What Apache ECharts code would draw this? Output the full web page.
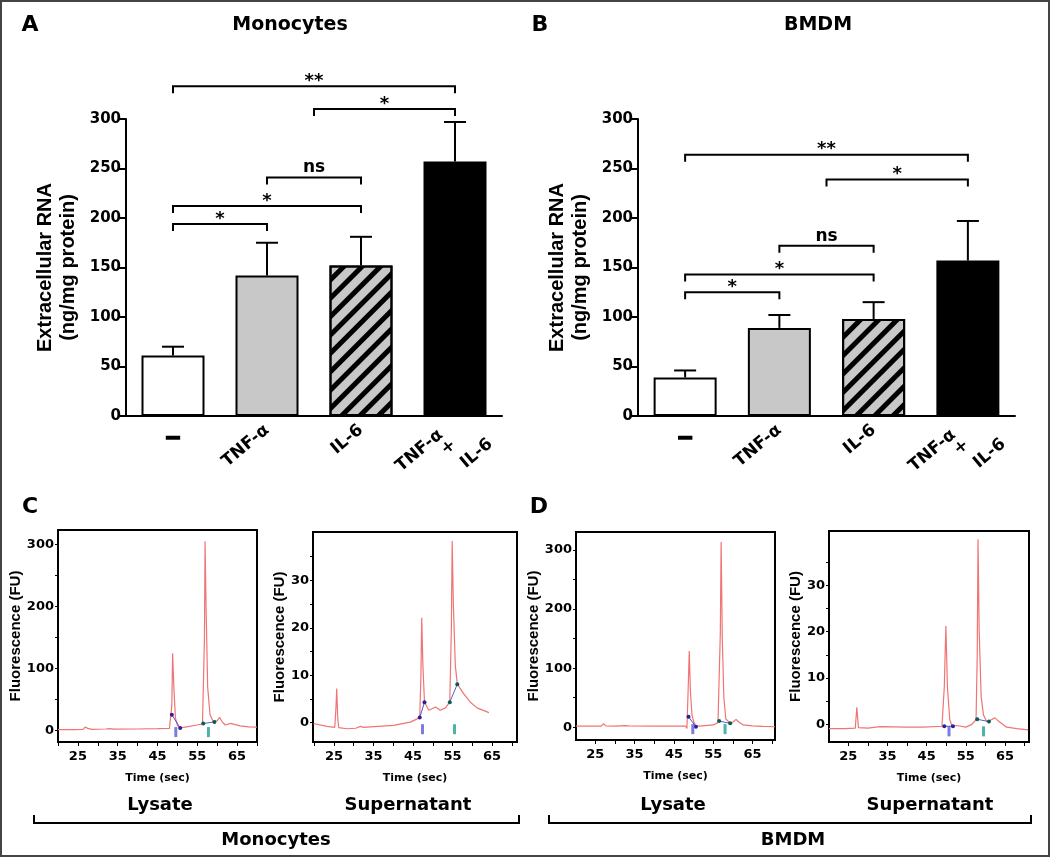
<!DOCTYPE html>
<html><head><meta charset="utf-8">
<script src="https://cdn.jsdelivr.net/npm/echarts@6/dist/echarts.min.js"></script>
<style>html,body{margin:0;padding:0;background:#fff}#c{width:1050px;height:857px}</style>
</head><body><div id="c"></div>
<script>
// ---------------- DATA ----------------
const categories = ['–', 'TNF-α', 'IL-6', 'TNF-α + IL-6'];
const monoMeans = [61, 142, 152, 257];
const monoErr = [9, 33, 29, 40];
const bmdmMeans = [39, 89, 98, 157];
const bmdmErr = [7, 13, 17, 40];
const barFills = ['#ffffff', '#c8c8c8', '#c8c8c8', '#000000'];
const barHatched = [false, false, true, false];

const bracketFrom = [0, 1.5, 1, 0, 0];
const bracketTo = [3, 3, 2, 2, 1];
const bracketLabels = ['**', '*', 'ns', '*', '*'];
const monoBracketY = [333, 310, 241, 212, 194];
const bmdmBracketY = [264, 239, 172, 143, 125];

// Electropherograms (time s, fluorescence FU)
const monoLysT  = [20, 24, 26.3, 26.8, 27.1, 27.5, 28.5, 32, 33, 34, 40, 45, 48, 48.4, 48.6, 48.8, 49.1, 49.5, 50.0, 50.7, 52.3, 54.9, 56.3, 56.6, 56.8, 56.95, 57.2, 57.6, 58.2, 59.0, 60.0, 60.6, 61.2, 62.0, 63.4, 64.5, 65.8, 68, 70];
const monoLysFU = [1, 1, 1.5, 5, 8, 3, 1.5, 2, 2.5, 1.8, 2, 2.5, 3, 1, 40, 124, 70, 20, 8, 3.7, 5.5, 8.4, 10, 12, 150, 305, 200, 70, 25, 14, 15, 21, 14, 8.4, 11, 9, 7, 5.5, 5];
const monoSupT  = [19.8, 23.2, 25.2, 25.5, 25.7, 25.95, 26.2, 28.3, 30.5, 31.7, 32.5, 34.2, 40.1, 44.3, 46.7, 47.0, 47.2, 47.5, 47.9, 49.0, 50.7, 51.9, 53.2, 54.3, 54.7, 54.9, 55.2, 55.7, 56.2, 57.8, 59.5, 61.2, 64.2];
const monoSupFU = [-0.2, -0.8, -1.0, 3, 7.2, 1, -1.05, -1.3, -1.2, -0.8, -1.0, -0.9, -0.6, 0.1, 1.05, 10, 22.1, 12, 4.3, 2.6, 3.3, 2.6, 3.1, 4.3, 20, 38.3, 25, 12, 8.1, 6.1, 4.3, 3.1, 2.1];
const bmdmLysT  = [20.1, 24, 26.5, 27.1, 27.7, 30, 32.6, 33.5, 40, 46, 48.0, 48.3, 48.6, 48.9, 49.2, 49.6, 50.1, 50.6, 51.2, 53, 55.0, 56.2, 56.6, 56.8, 57.0, 57.3, 57.7, 58.2, 59.3, 60.0, 60.8, 61.5, 62.6, 65, 67.7, 70.7];
const bmdmLysFU = [2, 2, 2, 6, 2.5, 2, 3, 2.5, 2, 2, 2, -2, 60, 129, 60, 20, 8, 2, 2, 3, 4, 8, 11, 160, 313, 150, 50, 14, 7, 9, 13.5, 9, 4, 2.5, 1.5, 1];
const bmdmSupT  = [20.1, 24, 26.8, 27.2, 27.6, 30, 33.1, 33.5, 40, 44.2, 48.9, 49.5, 49.9, 50.3, 50.9, 51.4, 53, 55.0, 56.5, 57.6, 57.9, 58.1, 58.4, 58.9, 59.5, 60.3, 61.5, 62.4, 63.2, 65.4, 68, 70.9];
const bmdmSupFU = [-0.9, -0.9, -0.8, 3.7, -0.7, -0.8, -0.5, -0.7, -0.6, -0.6, -0.4, 8, 21.2, 8, 1, -0.2, -0.3, -0.6, 0, 1, 15, 39.9, 20, 6, 2, 0.6, 1, 1.4, 0.8, -0.6, -0.9, -1.2];

// peak integration markers [time, FU]
const monoLysBlue = [[48.6, 25], [50.7, 3.7]];
const monoLysTeal = [[56.5, 10.8], [59.3, 13.4]];
const monoSupBlue = [[46.7, 1.05], [47.9, 4.3]];
const monoSupTeal = [[54.3, 4.3], [56.2, 8.1]];
const bmdmLysBlue = [[48.7, 17.9], [50.6, 1]];
const bmdmLysTeal = [[56.5, 10.6], [59.3, 6.7]];
const bmdmSupBlue = [[49.5, -0.4], [51.7, -0.4]];
const bmdmSupTeal = [[57.9, 1.1], [60.9, 0.6]];
// small peak tags under the peaks [time, FU]
const monoLysTags = [[49.6, -3], [57.8, -3]];
const monoSupTags = [[47.4, -1.4], [55.5, -1.4]];
const bmdmLysTags = [[49.8, -3], [58.0, -3]];
const bmdmSupTags = [[50.7, -1.5], [59.5, -1.5]];
// peak names and their label positions [time, FU]
const peakNames = ['18S', '28S'];
const monoLysPeakPos = [[43.9, 197], [52.7, 304]];
const monoSupPeakPos = [[44.3, 24.1], [50.2, 38.1]];
const bmdmLysPeakPos = [[44.5, 219], [51.7, 298]];
const bmdmSupPeakPos = [[45.0, 25.0], [54.1, 39.4]];

const lysYTicks = [0, 50, 100, 150, 200, 250, 300];
const lysYLabels = [0, 100, 200, 300];
const supYTicks = [0, 5, 10, 15, 20, 25, 30, 35];
const supYLabels = [0, 10, 20, 30];
const timeTicks = [20, 25, 30, 35, 40, 45, 50, 55, 60, 65, 70];
const timeLabels = [25, 35, 45, 55, 65];

// ---------------- STYLE / LAYOUT ----------------
const FONT = '"DejaVu Sans", sans-serif';
const LIB = '"Liberation Sans", Arial, sans-serif';
const hatch = {symbol: 'rect', symbolSize: 1, dashArrayX: [1, 0], dashArrayY: [5, 8], rotation: -Math.PI / 4, color: '#000'};

const chart = echarts.init(document.getElementById('c'));

const frame = {show: true, borderColor: '#000', borderWidth: 2};
const grids = [
  {left: 126, top: 119, width: 376, height: 297},
  {left: 638, top: 119, width: 377, height: 297},
  Object.assign({left: 58, top: 530, width: 199, height: 212}, frame),
  Object.assign({left: 313, top: 532, width: 204, height: 210}, frame),
  Object.assign({left: 576, top: 532, width: 199, height: 208}, frame),
  Object.assign({left: 829, top: 531, width: 200, height: 211}, frame)
];

const xAxes = [], yAxes = [], series = [];

function catX(api, v, y) {
  const a = Math.floor(v), b = Math.ceil(v);
  const xa = api.coord([a, y])[0];
  if (a === b) return xa;
  const xb = api.coord([b, y])[0];
  return xa + (xb - xa) * (v - a);
}

function barPanel(gi, means, errs, bY) {
  const xi = xAxes.length, yi = yAxes.length;
  const combo = categories[3].split(' ');
  const lab = {fontFamily: FONT, fontWeight: 'bold', fontSize: 17, color: '#000'};
  xAxes.push({
    type: 'category', gridIndex: gi, data: categories, position: 'bottom',
    axisLine: {lineStyle: {color: '#000', width: 2}},
    axisTick: {alignWithLabel: true, interval: 0, length: 8, lineStyle: {color: '#000', width: 2}},
    axisLabel: Object.assign({interval: 0, rotate: 40, margin: 12,
      formatter: (v, i) => (i === 1 || i === 2) ? v : ''}, lab),
    splitLine: {show: false}
  });
  xAxes.push({
    type: 'category', gridIndex: gi, data: categories, position: 'bottom',
    axisLine: {show: false}, axisTick: {show: false}, splitLine: {show: false},
    axisLabel: {interval: 0, rotate: 0, margin: 9, color: '#000', fontFamily: LIB, fontWeight: 'bold', fontSize: 26,
      textBorderColor: '#000', textBorderWidth: 1.5, formatter: (v, i) => i === 0 ? v : ''}
  });
  xAxes.push({
    type: 'category', gridIndex: gi, data: categories, position: 'bottom',
    axisLine: {show: false}, axisTick: {show: false}, splitLine: {show: false},
    axisLabel: Object.assign({interval: 0, rotate: 40, margin: 35, align: 'center',
      formatter: (v, i) => i === 3 ? '{a|' + combo[0] + '}\n{b|' + combo[1] + '}\n{c|' + combo[2] + '}' : '',
      rich: {
        a: Object.assign({lineHeight: 16, padding: [0, 54, 0, 0]}, lab),
        b: Object.assign({lineHeight: 16, padding: [0, 5, 0, 0]}, lab),
        c: Object.assign({lineHeight: 30, padding: [0, 0, 0, 30]}, lab)
      }}, lab)
  });
  yAxes.push({
    type: 'value', gridIndex: gi, min: 0, max: 300, interval: 50,
    name: 'Extracellular RNA\n(ng/mg protein)', nameLocation: 'middle', nameGap: 46,
    nameTextStyle: {fontFamily: LIB, fontWeight: 'bold', fontSize: 20, lineHeight: 23, color: '#000'},
    axisLine: {show: true, lineStyle: {color: '#000', width: 2}},
    axisTick: {show: true, length: 7, lineStyle: {color: '#000', width: 2}},
    axisLabel: {margin: 5, color: '#000', fontFamily: FONT, fontWeight: 'bold', fontSize: 15},
    splitLine: {show: false}
  });
  series.push({
    type: 'bar', xAxisIndex: xi, yAxisIndex: yi, barWidth: 63, z: 2,
    data: means.map((m, i) => ({value: m, itemStyle: {color: barFills[i], borderColor: '#000', borderWidth: 2,
      decal: barHatched[i] ? hatch : null}}))
  });
  series.push({
    type: 'custom', xAxisIndex: xi, yAxisIndex: yi, clip: false, z: 3,
    data: means.map((m, i) => [i, m, errs[i]]),
    encode: {x: 0, y: 1},
    renderItem: (p, api) => {
      const i = api.value(0), m = api.value(1), e = api.value(2);
      const a = api.coord([i, m]), b = api.coord([i, m + e]);
      return {type: 'group', children: [
        {type: 'line', shape: {x1: a[0], y1: a[1], x2: b[0], y2: b[1]}, style: {stroke: '#000', lineWidth: 2}},
        {type: 'line', shape: {x1: b[0] - 11, y1: b[1], x2: b[0] + 11, y2: b[1]}, style: {stroke: '#000', lineWidth: 2}}
      ]};
    }
  });
  series.push({
    type: 'custom', xAxisIndex: xi, yAxisIndex: yi, clip: false, z: 4,
    data: bY.map((y, k) => [k, y, bracketFrom[k], bracketTo[k]]),
    encode: {x: 0, y: 1},
    renderItem: (p, api) => {
      const k = api.value(0), y = api.value(1), f = api.value(2), t = api.value(3);
      const xa = catX(api, f, y), xb = catX(api, t, y);
      const py = api.coord([0, y])[1];
      const star = bracketLabels[k].indexOf('*') >= 0;
      return {type: 'group', children: [
        {type: 'polyline', shape: {points: [[xa, py + 7], [xa, py], [xb, py], [xb, py + 7]]},
          style: {stroke: '#000', lineWidth: 2, fill: null}},
        {type: 'text', x: (xa + xb) / 2, y: star ? py + 4 : py - 1,
          style: {text: bracketLabels[k], font: 'bold ' + (star ? 18 : 17) + 'px ' + FONT, fill: '#000',
            align: 'center', verticalAlign: 'bottom', textAlign: 'center', textVerticalAlign: 'bottom'}}
      ]};
    }
  });
}

function epPanel(gi, xr, yr, yTicks, yLabels, t, fu, blue, teal, tags, peakPos) {
  const xi = xAxes.length, yi = yAxes.length;
  xAxes.push({
    type: 'value', gridIndex: gi, min: xr[0], max: xr[1],
    name: 'Time (sec)', nameLocation: 'middle', nameGap: 31,
    nameTextStyle: {fontFamily: FONT, fontWeight: 'bold', fontSize: 11, color: '#000'},
    axisLine: {show: true, onZero: false, lineStyle: {color: '#000', width: 2}},
    axisTick: {show: true, length: 4, customValues: timeTicks, lineStyle: {color: '#000', width: 1}},
    axisLabel: {margin: 8, customValues: timeLabels, color: '#000', fontFamily: FONT, fontWeight: 'bold', fontSize: 13},
    splitLine: {show: false}
  });
  yAxes.push({
    type: 'value', gridIndex: gi, min: yr[0], max: yr[1],
    name: 'Fluorescence (FU)', nameLocation: 'middle', nameGap: 25,
    nameTextStyle: {fontFamily: LIB, fontWeight: 'bold', fontSize: 15, color: '#000'},
    axisLine: {show: true, onZero: false, lineStyle: {color: '#000', width: 2}},
    axisTick: {show: true, length: 3, customValues: yTicks, lineStyle: {color: '#000', width: 1}},
    axisLabel: {margin: 4, customValues: yLabels, color: '#000', fontFamily: FONT, fontWeight: 'bold', fontSize: 13},
    splitLine: {show: false}
  });
  series.push({
    type: 'line', xAxisIndex: xi, yAxisIndex: yi, showSymbol: false, symbol: 'none', z: 2,
    lineStyle: {color: '#f07474', width: 1.2},
    data: t.map((v, i) => [v, fu[i]])
  });
  series.push({
    type: 'line', xAxisIndex: xi, yAxisIndex: yi, symbol: 'circle', symbolSize: 4, z: 3,
    lineStyle: {color: '#5a4fd0', width: 1}, itemStyle: {color: '#2a2290'}, data: blue
  });
  series.push({
    type: 'line', xAxisIndex: xi, yAxisIndex: yi, symbol: 'circle', symbolSize: 4, z: 3,
    lineStyle: {color: '#4a6ad0', width: 1}, itemStyle: {color: '#0b5a52'}, data: teal
  });
  series.push({
    type: 'scatter', xAxisIndex: xi, yAxisIndex: yi, symbol: 'rect', symbolSize: [3, 10], z: 3,
    itemStyle: {color: (p) => p.dataIndex === 0 ? '#5a5ad8' : '#20a090'}, data: tags
  });
  series.push({
    type: 'scatter', xAxisIndex: xi, yAxisIndex: yi, symbolSize: 1, z: 4,
    itemStyle: {opacity: 0},
    label: {show: true, position: 'inside', formatter: (p) => peakNames[p.dataIndex],
      color: '#000', fontFamily: FONT, fontWeight: 'bold', fontSize: 14},
    data: peakPos
  });
}

barPanel(0, monoMeans, monoErr, monoBracketY);
barPanel(1, bmdmMeans, bmdmErr, bmdmBracketY);
epPanel(2, [20, 70], [-19, 323], lysYTicks, lysYLabels, monoLysT, monoLysFU, monoLysBlue, monoLysTeal, monoLysTags, monoLysPeakPos);
epPanel(3, [19.7, 71.3], [-4.1, 40.2], supYTicks, supYLabels, monoSupT, monoSupFU, monoSupBlue, monoSupTeal, monoSupTags, monoSupPeakPos);
epPanel(4, [20.1, 70.7], [-21.4, 330], lysYTicks, lysYLabels, bmdmLysT, bmdmLysFU, bmdmLysBlue, bmdmLysTeal, bmdmLysTags, bmdmLysPeakPos);
epPanel(5, [20.1, 71.1], [-3.8, 41.7], supYTicks, supYLabels, bmdmSupT, bmdmSupFU, bmdmSupBlue, bmdmSupTeal, bmdmSupTags, bmdmSupPeakPos);

function txt(x, y, text, size) {
  return {type: 'text', x: x, y: y, style: {text: text, font: 'bold ' + size + 'px ' + FONT, fill: '#000',
    align: 'center', verticalAlign: 'middle', textAlign: 'center', textVerticalAlign: 'middle'}};
}
function brace(x1, x2, y) {
  return {type: 'polyline', shape: {points: [[x1, y - 8], [x1, y], [x2, y], [x2, y - 8]]},
    style: {stroke: '#000', lineWidth: 2, fill: null}};
}

const graphic = [
  {type: 'rect', shape: {x: 1, y: 1, width: 1048, height: 855}, style: {fill: null, stroke: '#444', lineWidth: 2}},
  txt(30, 25, 'A', 22), txt(290, 25, 'Monocytes', 19),
  txt(540, 25, 'B', 22), txt(818, 25, 'BMDM', 19),
  txt(30, 507, 'C', 22), txt(539, 507, 'D', 22),
  txt(160, 805, 'Lysate', 18), txt(408, 805, 'Supernatant', 18),
  txt(673, 805, 'Lysate', 18), txt(930, 805, 'Supernatant', 18),
  brace(34, 519, 823), brace(549, 1031, 823),
  txt(276, 840, 'Monocytes', 18), txt(793, 840, 'BMDM', 18)
];

chart.setOption({
  animation: false,
  backgroundColor: '#fff',
  grid: grids,
  xAxis: xAxes,
  yAxis: yAxes,
  series: series,
  graphic: graphic
});
</script>
</body></html>
